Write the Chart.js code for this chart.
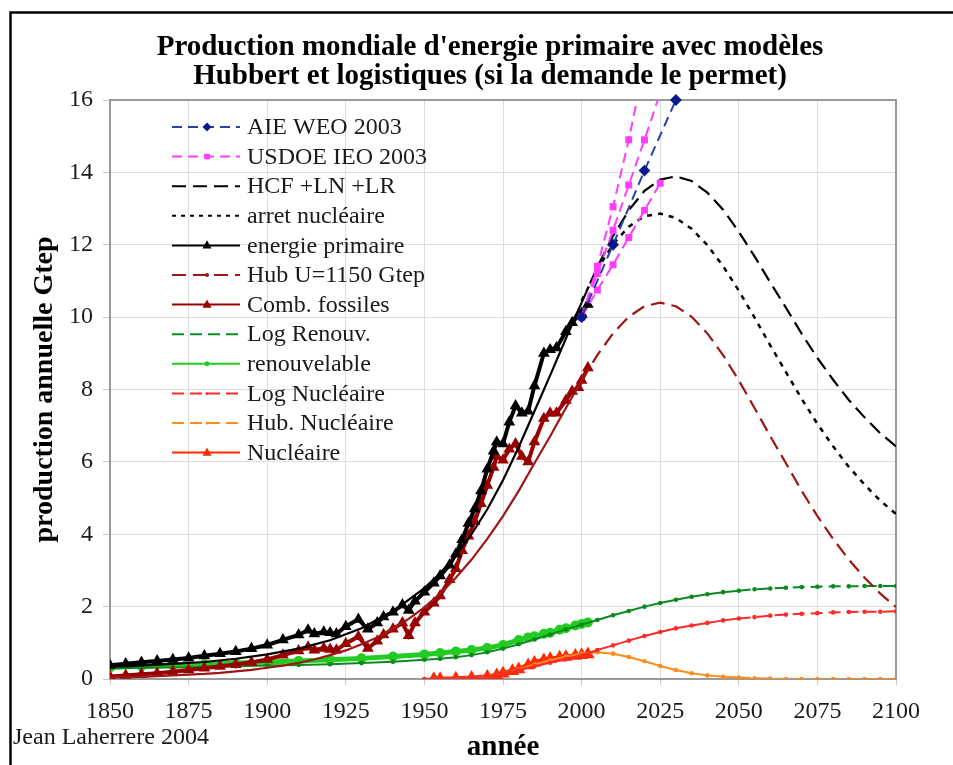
<!DOCTYPE html>
<html>
<head>
<meta charset="utf-8" />
<title>Production mondiale d'energie primaire</title>
<style>
  body { margin: 0; background: #fff; }
  canvas { display: block; }
</style>
</head>
<body>
<canvas id="stage" width="953" height="765"></canvas>

<script src="https://cdn.jsdelivr.net/npm/chart.js@4.4.0/dist/chart.umd.min.js"></script>
<script>
// valeurs (Gtep)
const titleLines = ["Production mondiale d'energie primaire avec modèles", 'Hubbert et logistiques (si la demande le permet)'];
const credit = 'Jean Laherrere 2004';

// historique
const histYears = [1850,1855,1860,1865,1870,1875,1880,1885,1890,1895,1900,1905,1910,1913,1915,1918,1920,1922,1925,1929,1932,1935,1937,1940,1943,1945,1947,1950,1953,1955,1958,1960,1962,1964,1966,1968,1970,1972,1973,1975,1977,1979,1981,1983,1985,1988,1990,1992,1995,1997,1999,2000,2002];
const primaire = [0.38,0.42,0.46,0.50,0.54,0.58,0.64,0.70,0.76,0.84,0.94,1.08,1.22,1.35,1.25,1.30,1.28,1.25,1.45,1.65,1.38,1.55,1.72,1.85,2.05,1.90,2.15,2.40,2.65,2.85,3.15,3.45,3.85,4.30,4.70,5.20,5.80,6.30,6.55,6.50,7.10,7.55,7.35,7.40,8.10,9.00,9.10,9.15,9.60,9.85,10.05,10.10,10.35];
const fossiles = [0.07,0.10,0.13,0.16,0.20,0.25,0.30,0.35,0.40,0.46,0.54,0.66,0.78,0.88,0.80,0.85,0.82,0.80,0.98,1.17,0.85,1.05,1.22,1.38,1.55,1.20,1.55,1.85,2.10,2.30,2.75,3.05,3.55,3.95,4.35,4.85,5.35,5.85,6.15,6.05,6.35,6.50,6.15,6.00,6.55,7.20,7.35,7.35,7.70,7.95,8.05,8.25,8.60];

const renYears = [1850,1860,1870,1880,1890,1900,1910,1920,1930,1940,1950,1955,1960,1965,1970,1975,1980,1983,1985,1988,1990,1993,1995,1998,2000,2002];
const renouvelable = [0.32,0.35,0.38,0.41,0.44,0.47,0.50,0.53,0.57,0.62,0.68,0.72,0.76,0.80,0.86,0.94,1.08,1.15,1.18,1.25,1.28,1.36,1.40,1.48,1.52,1.56];

const nucYears = [1953,1955,1960,1965,1970,1973,1975,1978,1980,1983,1985,1988,1990,1993,1995,1998,2000,2002];
const nucleaire = [0.00,0.00,0.01,0.03,0.06,0.10,0.15,0.22,0.27,0.38,0.45,0.52,0.55,0.59,0.61,0.64,0.66,0.68];

// modèles
const hubYears = [1850,1855,1860,1865,1870,1875,1880,1885,1890,1895,1900,1905,1910,1915,1920,1925,1930,1935,1940,1945,1950,1955,1960,1965,1970,1975,1980,1985,1990,1995,2000,2005,2010,2015,2020,2025,2030,2035,2040,2045,2050,2055,2060,2065,2070,2075,2080,2085,2090,2095,2100];
const hubFossiles = [0.04,0.05,0.06,0.08,0.10,0.12,0.14,0.17,0.21,0.25,0.31,0.37,0.45,0.54,0.66,0.79,0.96,1.15,1.39,1.66,1.98,2.36,2.80,3.30,3.87,4.50,5.20,5.96,6.71,7.49,8.25,8.95,9.55,10.01,10.30,10.40,10.30,10.01,9.55,8.95,8.25,7.49,6.71,5.96,5.20,4.50,3.87,3.30,2.80,2.36,1.99];

const modYears = [1850,1860,1870,1880,1890,1900,1910,1920,1930,1940,1950,1955,1960,1965,1970,1975,1980,1985,1990,1995,2000,2005,2010,2015,2020,2025,2030,2035,2040,2045,2050,2055,2060,2065,2070,2075,2080,2085,2090,2095,2100];
const hcf = [0.34,0.37,0.42,0.47,0.56,0.68,0.84,1.07,1.40,1.87,2.51,2.92,3.42,4.00,4.69,5.49,6.41,7.40,8.39,9.41,10.40,11.38,12.24,12.95,13.49,13.80,13.89,13.76,13.44,12.97,12.36,11.68,10.96,10.26,9.54,8.87,8.27,7.71,7.23,6.79,6.43];
const logRenouv = [0.30,0.31,0.32,0.33,0.35,0.37,0.39,0.41,0.44,0.48,0.53,0.56,0.60,0.66,0.74,0.84,0.96,1.09,1.23,1.37,1.50,1.63,1.76,1.88,2.00,2.10,2.19,2.27,2.34,2.40,2.44,2.48,2.50,2.52,2.54,2.55,2.56,2.56,2.57,2.57,2.57];

const arretYears = [2000,2005,2010,2015,2020,2025,2030,2035,2040,2045,2050,2055,2060,2065,2070,2075,2080,2085,2090,2095,2100];
const arret = [10.45,11.32,12.01,12.50,12.79,12.86,12.74,12.44,11.99,11.41,10.73,9.99,9.22,8.48,7.74,7.05,6.43,5.86,5.37,4.93,4.56];

const nucModYears = [1950,1955,1960,1965,1970,1975,1980,1985,1990,1995,2000,2005,2010,2015,2020,2025,2030,2035,2040,2045,2050,2055,2060,2065,2070,2075,2080,2085,2090,2095,2100];
const logNucleaire = [0.00,0.00,0.02,0.04,0.08,0.15,0.25,0.35,0.45,0.55,0.65,0.80,0.93,1.06,1.19,1.30,1.40,1.48,1.55,1.62,1.67,1.71,1.75,1.78,1.80,1.82,1.84,1.85,1.86,1.86,1.87];
const hubNucleaire = [0.00,0.00,0.02,0.04,0.08,0.15,0.27,0.40,0.52,0.62,0.70,0.74,0.70,0.61,0.49,0.36,0.25,0.16,0.10,0.06,0.04,0.02,0.01,0.00,0.00,0.00,0.00,0.00,0.00,0.00,0.00];

// prévisions
const aieYears = [2000,2010,2020,2030];
const aie = [10.0,12.0,14.05,16.0];
const doeYears = [2000,2005,2010,2015,2020,2025];
const doeHaut = [10.0,11.4,13.05,14.9,17.0,19.0];
const doeRef = [10.0,11.2,12.4,13.65,14.9,16.2];
const doeBas = [10.0,10.75,11.45,12.2,12.95,13.7];

const fam = '"Liberation Serif", "Times New Roman", serif';

function pts(xs, ys) {
  return xs.map((x, i) => ({ x: x, y: ys[i] }));
}
// trait plein avant l'année donnée, tirets après
function dashFrom(year, dash) {
  return { borderDash: c => (c.p0.parsed.x >= year ? dash : []) };
}

function drawMarker(ctx, style, r, color, x, y) {
  if (!r) return;
  ctx.fillStyle = color;
  ctx.beginPath();
  if (style === 'triangle') {
    ctx.moveTo(x, y - r * 1.15); ctx.lineTo(x + r, y + r * 0.7); ctx.lineTo(x - r, y + r * 0.7);
  } else if (style === 'rectRot') {
    ctx.moveTo(x, y - r); ctx.lineTo(x + r, y); ctx.lineTo(x, y + r); ctx.lineTo(x - r, y);
  } else if (style === 'rect') {
    ctx.rect(x - r * 0.8, y - r * 0.8, r * 1.6, r * 1.6);
  } else {
    ctx.arc(x, y, r, 0, Math.PI * 2);
  }
  ctx.closePath();
  ctx.fill();
}

const legendBox = {
  id: 'legendBox',
  afterDraw(chart) {
    const ctx = chart.ctx;
    let i = 0;
    chart.data.datasets.forEach(ds => {
      if (!ds.legendText) return;
      const y = 127 + i * 29.6;
      ctx.save();
      ctx.strokeStyle = ds.borderColor;
      ctx.lineWidth = 2;
      ctx.setLineDash(ds.dash || []);
      ctx.beginPath();
      ctx.moveTo(172, y);
      ctx.lineTo(240, y);
      ctx.stroke();
      ctx.setLineDash([]);
      drawMarker(ctx, ds.pointStyle, ds.legendRadius, ds.pointBackgroundColor, 207, y);
      ctx.fillStyle = '#1a1a1a';
      ctx.font = '24px ' + fam;
      ctx.textBaseline = 'middle';
      ctx.fillText(ds.legendText, 247, y + 1);
      ctx.restore();
      i++;
    });
  }
};

const decor = {
  id: 'decor',
  beforeDatasetsDraw(chart) {
    const { ctx, chartArea: a } = chart;
    ctx.save();
    ctx.strokeStyle = '#9a9a9a';
    ctx.lineWidth = 2;
    ctx.strokeRect(a.left, a.top, a.right - a.left, a.bottom - a.top);
    ctx.restore();
  },
  afterDraw(chart) {
    const ctx = chart.ctx;
    ctx.save();
    ctx.strokeStyle = '#000';
    ctx.lineWidth = 2.5;
    ctx.strokeRect(10.5, 12.5, 1000, 800);
    ctx.fillStyle = '#000';
    ctx.textAlign = 'center';
    ctx.textBaseline = 'middle';
    ctx.font = 'bold 29px ' + fam;
    titleLines.forEach((t, i) => ctx.fillText(t, 490, 48 + i * 29));
    ctx.textAlign = 'left';
    ctx.font = '24px ' + fam;
    ctx.fillStyle = '#1a1a1a';
    ctx.fillText(credit, 13, 738);
    ctx.restore();
  }
};

const datasets = [
  { legendText: 'AIE WEO 2003', data: pts(aieYears, aie), borderColor: '#2b3fae', borderWidth: 2,
    borderDash: [10, 6], dash: [10, 6], pointStyle: 'rectRot', pointRadius: 4.5, legendRadius: 4.5,
    pointBackgroundColor: '#0a1a8a', pointBorderColor: '#0a1a8a', clip: 8 },
  { legendText: 'USDOE IEO 2003', data: pts(doeYears, doeHaut), borderColor: '#ff3cff', borderWidth: 2,
    borderDash: [10, 6], dash: [10, 6], pointStyle: 'rect', pointRadius: 3.5, legendRadius: 3.5,
    pointBackgroundColor: '#ff3cff', pointBorderColor: '#ff3cff' },
  { data: pts(doeYears, doeRef), borderColor: '#ff3cff', borderWidth: 2, borderDash: [10, 6],
    pointStyle: 'rect', pointRadius: 3.5, pointBackgroundColor: '#ff3cff', pointBorderColor: '#ff3cff' },
  { data: pts(doeYears, doeBas), borderColor: '#ff3cff', borderWidth: 2, borderDash: [10, 6],
    pointStyle: 'rect', pointRadius: 3.5, pointBackgroundColor: '#ff3cff', pointBorderColor: '#ff3cff' },
  { legendText: 'HCF +LN +LR', data: pts(modYears, hcf), borderColor: '#000', borderWidth: 2.2,
    dash: [14, 7], segment: dashFrom(2000, [14, 7]), pointRadius: 0, legendRadius: 0 },
  { legendText: 'arret nucléaire', data: pts(arretYears, arret), borderColor: '#000', borderWidth: 2.5,
    borderDash: [5, 6], dash: [4, 5], pointRadius: 0, legendRadius: 0 },
  { legendText: 'energie primaire', data: pts(histYears, primaire), borderColor: '#000', borderWidth: 4,
    pointStyle: 'triangle', pointRadius: 2.8, legendRadius: 4.5,
    pointBackgroundColor: '#000', pointBorderColor: '#000' },
  { legendText: 'Hub U=1150 Gtep', data: pts(hubYears, hubFossiles), borderColor: '#a01515', borderWidth: 2.2,
    dash: [14, 7], segment: dashFrom(2000, [14, 7]), pointRadius: 0, legendRadius: 2,
    pointBackgroundColor: '#a01515' },
  { legendText: 'Comb. fossiles', data: pts(histYears, fossiles), borderColor: '#990000', borderWidth: 4,
    pointStyle: 'triangle', pointRadius: 2.8, legendRadius: 4.5,
    pointBackgroundColor: '#990000', pointBorderColor: '#990000' },
  { legendText: 'Log Renouv.', data: pts(modYears, logRenouv), borderColor: '#0d8a1f', borderWidth: 2,
    dash: [12, 6], segment: dashFrom(2050, [12, 6]), pointRadius: 1.3, legendRadius: 0,
    pointBackgroundColor: '#0d8a1f', pointBorderColor: '#0d8a1f' },
  { legendText: 'renouvelable', data: pts(renYears, renouvelable), borderColor: '#22cc22', borderWidth: 5,
    pointStyle: 'circle', pointRadius: 2.5, legendRadius: 2.5,
    pointBackgroundColor: '#22cc22', pointBorderColor: '#22cc22' },
  { legendText: 'Log Nucléaire', data: pts(nucModYears, logNucleaire), borderColor: '#ff2a2a', borderWidth: 2,
    dash: [12, 6], segment: dashFrom(2050, [12, 6]), pointRadius: 1.3, legendRadius: 1.5,
    pointBackgroundColor: '#ff2a2a', pointBorderColor: '#ff2a2a' },
  { legendText: 'Hub. Nucléaire', data: pts(nucModYears, hubNucleaire), borderColor: '#ff8c1a', borderWidth: 2,
    dash: [12, 6], segment: dashFrom(2050, [12, 6]), pointRadius: 1.3, legendRadius: 1.5,
    pointBackgroundColor: '#ff8c1a', pointBorderColor: '#ff8c1a' },
  { legendText: 'Nucléaire', data: pts(nucYears, nucleaire), borderColor: '#ff2a00', borderWidth: 5,
    pointStyle: 'triangle', pointRadius: 2.8, legendRadius: 4.5,
    pointBackgroundColor: '#ff2a00', pointBorderColor: '#ff2a00' }
];

new Chart(document.getElementById('stage'), {
  type: 'line',
  data: { datasets: datasets },
  options: {
    responsive: false,
    animation: false,
    devicePixelRatio: 1,
    layout: { padding: { top: 100, right: 57, bottom: 0, left: 0 } },
    plugins: { legend: { display: false }, tooltip: { enabled: false }, title: { display: false } },
    elements: { line: { tension: 0, fill: false }, point: { borderWidth: 1 } },
    scales: {
      x: {
        type: 'linear', min: 1850, max: 2100,
        ticks: { stepSize: 25, color: '#1a1a1a', padding: 12, font: { family: fam, size: 24 },
                 callback: v => String(v) },
        grid: { color: '#dedede', tickLength: 6, tickColor: '#c8c8c8' },
        border: { display: false },
        title: { display: true, text: 'année', color: '#000', padding: { top: 0, bottom: 0 },
                 font: { family: fam, size: 29, weight: 'bold' } },
        afterFit: s => { s.height = 86; }
      },
      y: {
        type: 'linear', min: 0, max: 16,
        ticks: { stepSize: 2, color: '#1a1a1a', padding: 10, font: { family: fam, size: 24 } },
        grid: { color: '#dedede', tickLength: 7, tickColor: '#c8c8c8' },
        border: { display: false },
        title: { display: true, text: 'production annuelle Gtep', color: '#000', padding: { top: 28, bottom: 0 },
                 font: { family: fam, size: 28, weight: 'bold' } },
        afterFit: s => { s.width = 110; }
      }
    }
  },
  plugins: [decor, legendBox]
});
</script>
</body>
</html>
